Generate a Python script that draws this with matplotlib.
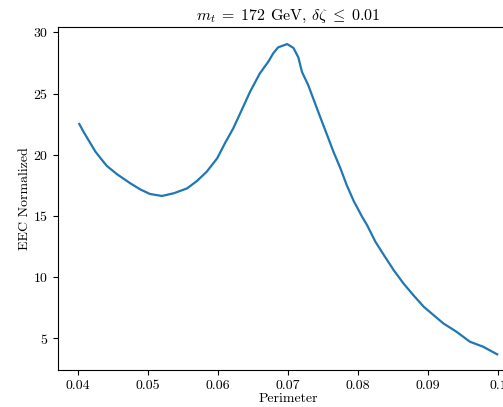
import matplotlib
matplotlib.use('Agg')
import matplotlib.pyplot as plt

# Values
perimeter = [0.0402, 0.0408, 0.0425, 0.0441, 0.0456, 0.0475, 0.0489, 0.0503, 0.0520,
             0.0537, 0.0556, 0.0570, 0.0584, 0.0599, 0.0610, 0.0622, 0.0634, 0.0646,
             0.0660, 0.0672, 0.0679, 0.0686, 0.0699, 0.0708, 0.0715, 0.0720, 0.0729,
             0.0737, 0.0746, 0.0756, 0.0765, 0.0775, 0.0784, 0.0794, 0.0806, 0.0813,
             0.0825, 0.0837, 0.0851, 0.0865, 0.0879, 0.0894, 0.0908, 0.0922, 0.0941,
             0.0960, 0.0979, 0.0999]
eec = [22.51, 21.88, 20.25, 19.10, 18.40, 17.66, 17.17, 16.79, 16.63,
       16.85, 17.25, 17.85, 18.61, 19.71, 20.93, 22.16, 23.65, 25.15,
       26.65, 27.60, 28.28, 28.77, 29.04, 28.72, 27.94, 26.78, 25.69,
       24.47, 23.10, 21.61, 20.25, 18.89, 17.52, 16.22, 14.93, 14.26,
       12.89, 11.81, 10.58, 9.49, 8.54, 7.58, 6.90, 6.22, 5.53,
       4.72, 4.31, 3.69]

plt.rcParams['font.family'] = 'serif'
plt.rcParams['font.serif'] = ['cmr10']
plt.rcParams['mathtext.fontset'] = 'cm'
plt.rcParams['axes.formatter.use_mathtext'] = True

W, H = 503, 407
fig = plt.figure(figsize=(W / 100, H / 100), dpi=100)
# axes runs past the right edge like the cropped original
left, right, bottom, top = 58.3, 517.5, 370, 27.3
ax = fig.add_axes([left / W, (H - bottom) / H, (right - left) / W, (bottom - top) / H])

ax.plot(perimeter, eec, color='tab:blue', linewidth=1.6)
ax.set_xlim(0.0372, 0.1028)
ax.set_ylim(2.41, 30.41)
ax.set_xticks([0.04, 0.05, 0.06, 0.07, 0.08, 0.09, 0.10])
ax.set_xticklabels(['0.04', '0.05', '0.06', '0.07', '0.08', '0.09', '0.1'])
ax.set_yticks([5, 10, 15, 20, 25, 30])

ax.set_title(r'$m_t\;=\;172$ GeV, $\delta\zeta\;\leq\;0.01$', fontsize=11.5, pad=5)
ax.set_xlabel('Perimeter', labelpad=1)
ax.set_ylabel('EEC Normalized', labelpad=2)

fig.savefig('out.png', dpi=100)
